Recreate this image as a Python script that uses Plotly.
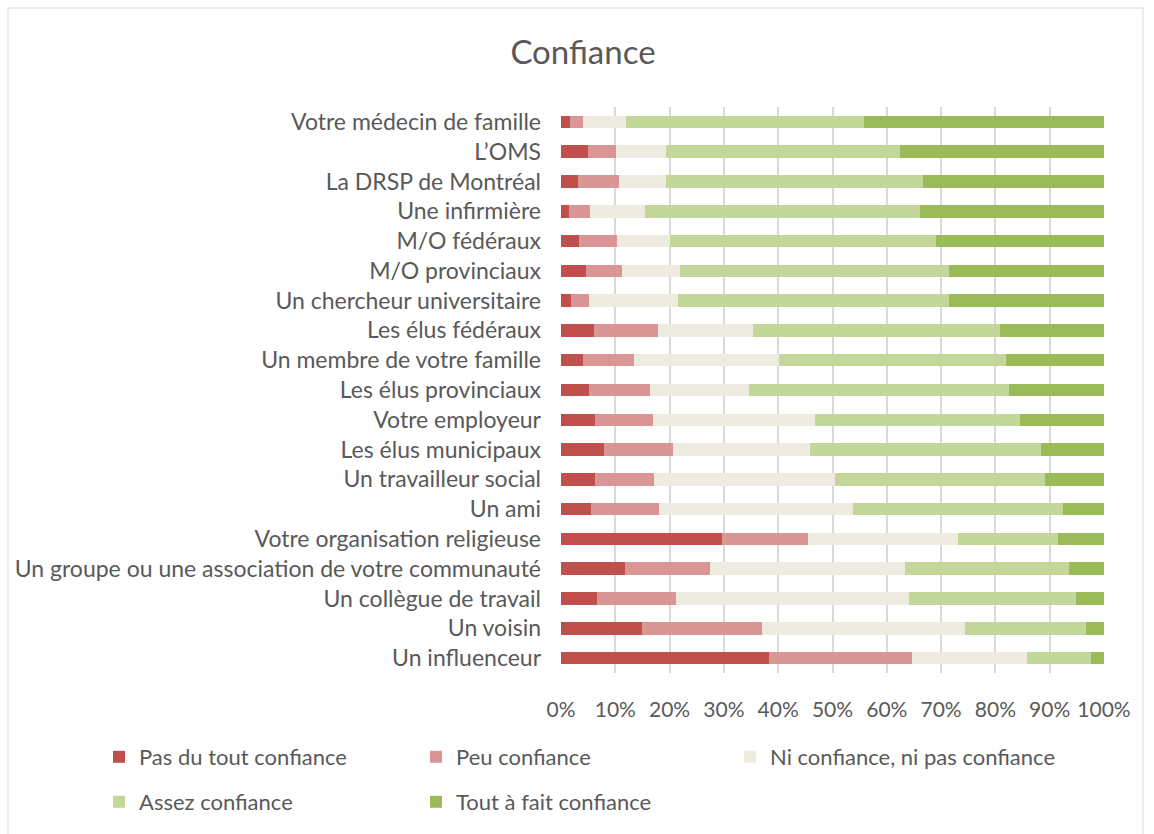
import plotly.graph_objects as go

sources = ["Votre médecin de famille", "L’OMS", "La DRSP de Montréal", "Une infirmière",
           "M/O fédéraux", "M/O provinciaux", "Un chercheur universitaire", "Les élus fédéraux",
           "Un membre de votre famille", "Les élus provinciaux", "Votre employeur",
           "Les élus municipaux", "Un travailleur social", "Un ami",
           "Votre organisation religieuse", "Un groupe ou une association de votre communauté",
           "Un collègue de travail", "Un voisin", "Un influenceur"]

pas_du_tout = [1.6, 5.0, 3.1, 1.4, 3.3, 4.6, 1.8, 6.0, 4.0, 5.1, 6.3, 8.0, 6.3, 5.5, 29.6, 11.8, 6.6, 14.9, 38.3]
peu = [2.4, 5.1, 7.5, 4.0, 7.1, 6.7, 3.3, 11.8, 9.4, 11.2, 10.6, 12.6, 10.8, 12.6, 15.8, 15.6, 14.5, 22.1, 26.3]
ni_ni = [7.9, 9.2, 8.7, 10.1, 9.6, 10.6, 16.4, 17.6, 26.7, 18.3, 29.8, 25.2, 33.3, 35.6, 27.7, 36.0, 42.9, 37.4, 21.2]
assez = [43.9, 43.1, 47.3, 50.6, 49.1, 49.6, 50.0, 45.5, 41.8, 47.9, 37.8, 42.6, 38.7, 38.7, 18.4, 30.1, 30.8, 22.3, 11.8]
tout_a_fait = [44.2, 37.6, 33.4, 33.9, 30.9, 28.5, 28.5, 19.1, 18.1, 17.5, 15.5, 11.6, 10.9, 7.6, 8.5, 6.5, 5.2, 3.3, 2.4]

# (name, values, colour, legend position in px: x, y)
series = [
    ("Pas du tout confiance", pas_du_tout, "#C0504D", 99, 757),
    ("Peu confiance", peu, "#DA9694", 416, 757),
    ("Ni confiance, ni pas confiance", ni_ni, "#EEECE1", 730, 757),
    ("Assez confiance", assez, "#C4D79B", 99, 802),
    ("Tout à fait confiance", tout_a_fait, "#9BBB59", 416, 802),
]

W, H = 1154, 834
# plot area in pixels: x 561..1104, y 107..673
pl, pr, pt, pb = 561, 1104, 107, 673
pw, ph = pr - pl, pb - pt

fig = go.Figure()
legends = {}
for i, (name, vals, color, lx, ly) in enumerate(series):
    key = "legend" if i == 0 else f"legend{i + 1}"
    fig.add_trace(go.Bar(y=sources, x=vals, name=name, orientation="h",
                         marker=dict(color=color, line=dict(width=0)),
                         legend=key, showlegend=True, hoverinfo="skip"))
    legends[key] = dict(orientation="h", xref="container", yref="container",
                        x=lx / W, y=1 - ly / H, xanchor="left", yanchor="middle",
                        font=dict(size=22, color="#595959"), itemwidth=30,
                        bgcolor="rgba(0,0,0,0)")

fig.update_layout(
    barmode="stack", bargap=0.58, showlegend=True,
    width=W, height=H,
    margin=dict(l=pl, r=W - pr, t=pt, b=H - pb),
    paper_bgcolor="white", plot_bgcolor="white",
    font=dict(family="Lato, Open Sans, sans-serif", color="#595959"),
    title=dict(text="Confiance", x=583 / W, xanchor="center", y=1 - 52 / H, yanchor="middle",
               font=dict(size=33, color="#595959")),
    xaxis=dict(range=[0, 100], tickvals=list(range(0, 101, 10)),
               ticktext=[f"{v}%" for v in range(0, 101, 10)],
               showgrid=True, gridcolor="#D9D9D9", gridwidth=1.5, zeroline=False,
               tickfont=dict(size=21, color="#595959"), ticks="", ticklabelstandoff=22,
               fixedrange=True),
    yaxis=dict(autorange="reversed", tickfont=dict(size=23, color="#595959"),
               ticks="", ticklabelstandoff=19, showgrid=False, fixedrange=True),
    shapes=[dict(type="rect", xref="paper", yref="paper",
                 x0=(8 - pl) / pw, x1=(1143 - pl) / pw,
                 y0=(pb - 845) / ph, y1=(pb - 8) / ph,
                 line=dict(color="#D9D9D9", width=1), fillcolor="rgba(0,0,0,0)", layer="below")],
    **legends,
)

fig.write_html("out.html", config={"displayModeBar": False},
               post_script="document.body.style.margin='0';")
